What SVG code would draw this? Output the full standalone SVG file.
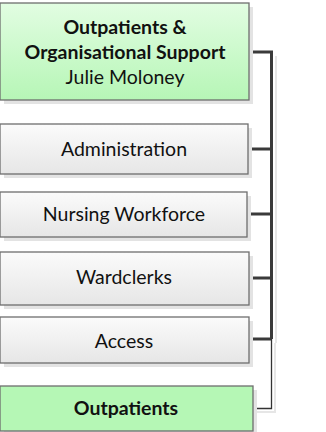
<svg xmlns="http://www.w3.org/2000/svg" width="326" height="432" viewBox="0 0 326 432">
<defs>
<linearGradient id="gGreen" x1="0" y1="0" x2="0" y2="1"><stop offset="0" stop-color="#e2fde2"/><stop offset="1" stop-color="#b6f6b6"/></linearGradient>
<linearGradient id="gGray" x1="0" y1="0" x2="0" y2="1"><stop offset="0" stop-color="#fbfbfb"/><stop offset="1" stop-color="#e6e6e6"/></linearGradient>
</defs>
<style>
.shadow{fill:#e3e3e3}
.box{stroke:#6e6e6e;stroke-width:1.3}
.green{fill:url(#gGreen)}
.gray{fill:url(#gGray)}
.flat{fill:#b5f7b5}
text{font-family:Lato,"Open Sans",sans-serif;font-size:19.5px;fill:#111;text-anchor:middle}
.b{font-weight:bold}
.con{fill:none;stroke:#3a3a3a;stroke-width:3}
.thin{fill:none;stroke:#333;stroke-width:1.3}
.cs{fill:none;stroke:#e6e6e6;stroke-width:2}
</style>
<g id="connectors">
<path class="cs" d="M276 56 V343 M275 343 V412 H257"/>
<path class="con" d="M249 52 H271.5 V339 M248 149 H271.5 M247 214 H271.5 M249 278 H271.5 M249 339 H271.5"/>
<path class="thin" d="M271.5 339 V408.5 H253"/>
<path class="thin" d="M0 52.5 H2"/>
</g>
<g id="n-ops">
<rect class="shadow" x="4" y="7" width="249" height="97"/>
<rect class="box green" x="0" y="3" width="249" height="97"/>
<text class="b" x="125" y="34">Outpatients &amp;</text>
<text class="b" x="125" y="59">Organisational Support</text>
<text x="125" y="84">Julie Moloney</text>
</g>
<g id="n-admin">
<rect class="shadow" x="4" y="128" width="248" height="50"/>
<rect class="box gray" x="0" y="124" width="248" height="50"/>
<text x="124" y="156">Administration</text>
</g>
<g id="n-nursing">
<rect class="shadow" x="4" y="196" width="247" height="45"/>
<rect class="box gray" x="0" y="192" width="247" height="45"/>
<text x="124" y="221">Nursing Workforce</text>
</g>
<g id="n-ward">
<rect class="shadow" x="4" y="256" width="249" height="53"/>
<rect class="box gray" x="0" y="252" width="249" height="53"/>
<text x="124" y="284">Wardclerks</text>
</g>
<g id="n-access">
<rect class="shadow" x="4" y="321" width="249" height="46"/>
<rect class="box gray" x="0" y="317" width="249" height="46"/>
<text x="124" y="348">Access</text>
</g>
<g id="n-outp">
<rect class="shadow" x="4" y="390" width="253" height="45"/>
<rect class="box flat" x="0" y="386" width="253" height="45"/>
<text class="b" x="126" y="415">Outpatients</text>
</g>
</svg>
